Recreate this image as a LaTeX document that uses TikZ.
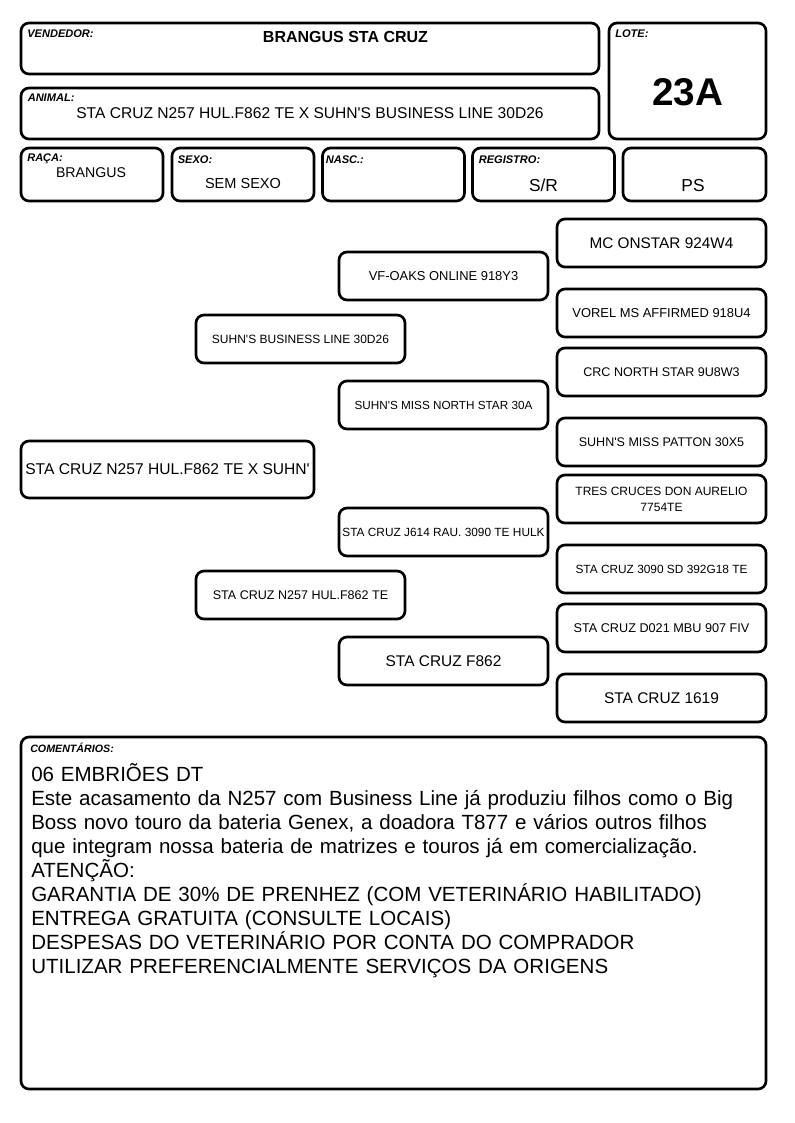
\documentclass[tikz,border=0pt]{standalone}
\usepackage{fontspec}
\setmainfont{Liberation Sans}
\begin{document}
\begin{tikzpicture}[x=0.75pt,y=-0.75pt,
  sz/.style 2 args={minimum width=#1*0.75pt, minimum height=#2*0.75pt},
  box/.style={draw, line width=2pt, rounded corners=6pt, inner sep=0pt},
  ped/.style={box, sz={209}{48}, align=center},
  lbl/.style={font=\fontsize{8.3}{9}\selectfont\bfseries\itshape, anchor=base west, inner sep=0pt},
  val/.style={anchor=base, inner sep=0pt}]
\useasboundingbox (0,0) rectangle (794,1123);
\node[box, sz={578}{51}] (vend) at (310,48.5) {};
\node[lbl] (vendl) at (27,38) {VENDEDOR:};
\node[val, font=\fontsize{12}{14}\selectfont\bfseries] (vendv) at (345.5,43) {BRANGUS STA CRUZ};
\node[box, sz={578}{51}] (anim) at (310,113.5) {};
\node[lbl] (animl) at (27.5,102) {ANIMAL:};
\node[val, font=\fontsize{11.7}{14}\selectfont] (animv) at (310,119) {STA CRUZ N257 HUL.F862 TE X SUHN\textquotesingle S BUSINESS LINE 30D26};
\node[box, sz={157}{116}] (lote) at (687.5,81) {};
\node[lbl] (lotel) at (615,38) {LOTE:};
\node[val, font=\fontsize{29}{32}\selectfont\bfseries] (lotev) at (687.5,105.5) {23A};
\node[box, sz={142}{53}] (raca) at (92,174.5) {};
\node[lbl] (racal) at (27,162) {RAÇA:};
\node[val, font=\fontsize{10.6}{12}\selectfont] (racav) at (91,177.5) {BRANGUS};
\node[box, sz={142}{53}] (sexo) at (243,174.5) {};
\node[lbl] (sexol) at (177.5,164) {SEXO:};
\node[val, font=\fontsize{10.9}{12}\selectfont] (sexov) at (243,189) {SEM SEXO};
\node[box, sz={142}{53}] (nasc) at (393.5,174.5) {};
\node[lbl] (nascl) at (325.5,164) {NASC.:};
\node[box, sz={142}{53}] (regi) at (543.5,174.5) {};
\node[lbl] (regil) at (478.5,164) {REGISTRO:};
\node[val, font=\fontsize{13}{15}\selectfont] (regiv) at (543.5,191.5) {S/R};
\node[box, sz={143}{53}] (tipo) at (694.5,174.5) {};
\node[val, font=\fontsize{13}{15}\selectfont] (tipov) at (693,191.5) {PS};
\node[box, sz={293}{57}, font=\fontsize{11.7}{14}\selectfont] (animal) at (167.5,469.5) {STA CRUZ N257 HUL.F862 TE X SUHN\textquotesingle};
\node[ped, font=\fontsize{9}{11}\selectfont] (sire) at (300.5,339) {SUHN\textquotesingle S BUSINESS LINE 30D26};
\node[ped, font=\fontsize{9.4}{11}\selectfont] (dam) at (300.5,595) {STA CRUZ N257 HUL.F862 TE};
\node[ped, font=\fontsize{9.7}{11}\selectfont] (gp1) at (443.5,276) {VF-OAKS ONLINE 918Y3};
\node[ped, font=\fontsize{8.8}{11}\selectfont] (gp2) at (443.5,405) {SUHN\textquotesingle S MISS NORTH STAR 30A};
\node[ped, font=\fontsize{8.9}{11}\selectfont] (gp3) at (443.5,532) {STA CRUZ J614 RAU. 3090 TE HULK};
\node[ped, font=\fontsize{11.6}{14}\selectfont] (gp4) at (443.5,661) {STA CRUZ F862};
\node[ped, font=\fontsize{11.5}{14}\selectfont] (ggp1) at (661.5,243) {MC ONSTAR 924W4};
\node[ped, font=\fontsize{9.7}{11}\selectfont] (ggp2) at (661.5,313) {VOREL MS AFFIRMED 918U4};
\node[ped, font=\fontsize{9.4}{11}\selectfont] (ggp3) at (661.5,372) {CRC NORTH STAR 9U8W3};
\node[ped, font=\fontsize{9.4}{11}\selectfont] (ggp4) at (661.5,442) {SUHN\textquotesingle S MISS PATTON 30X5};
\node[ped, font=\fontsize{9}{12}\selectfont] (ggp5) at (661.5,499) {TRES CRUCES DON AURELIO\\7754TE};
\node[ped, font=\fontsize{8.9}{11}\selectfont] (ggp6) at (661.5,569) {STA CRUZ 3090 SD 392G18 TE};
\node[ped, font=\fontsize{9.5}{11}\selectfont] (ggp7) at (661.5,628) {STA CRUZ D021 MBU 907 FIV};
\node[ped, font=\fontsize{11.6}{14}\selectfont] (ggp8) at (661.5,698) {STA CRUZ 1619};
\node[box, sz={745}{352}] (coment) at (393.5,913) {};
\node[lbl, font=\fontsize{8}{9}\selectfont\bfseries\itshape] (comentl) at (30,752) {COMENTÁRIOS:};
\node[anchor=base west, inner sep=0pt, text width=560pt, align=left, font=\fontsize{15.4}{18}\selectfont] (comentv) at (31,781) {06 EMBRIÕES DT\\
Este acasamento da N257 com Business Line já produziu filhos como o Big\\
Boss novo touro da bateria Genex, a doadora T877 e vários outros filhos\\
que integram nossa bateria de matrizes e touros já em comercialização.\\
ATENÇÃO:\\
GARANTIA DE 30\% DE PRENHEZ (COM VETERINÁRIO HABILITADO)\\
ENTREGA GRATUITA (CONSULTE LOCAIS)\\
DESPESAS DO VETERINÁRIO POR CONTA DO COMPRADOR\\
UTILIZAR PREFERENCIALMENTE SERVIÇOS DA ORIGENS};
\end{tikzpicture}
\end{document}
